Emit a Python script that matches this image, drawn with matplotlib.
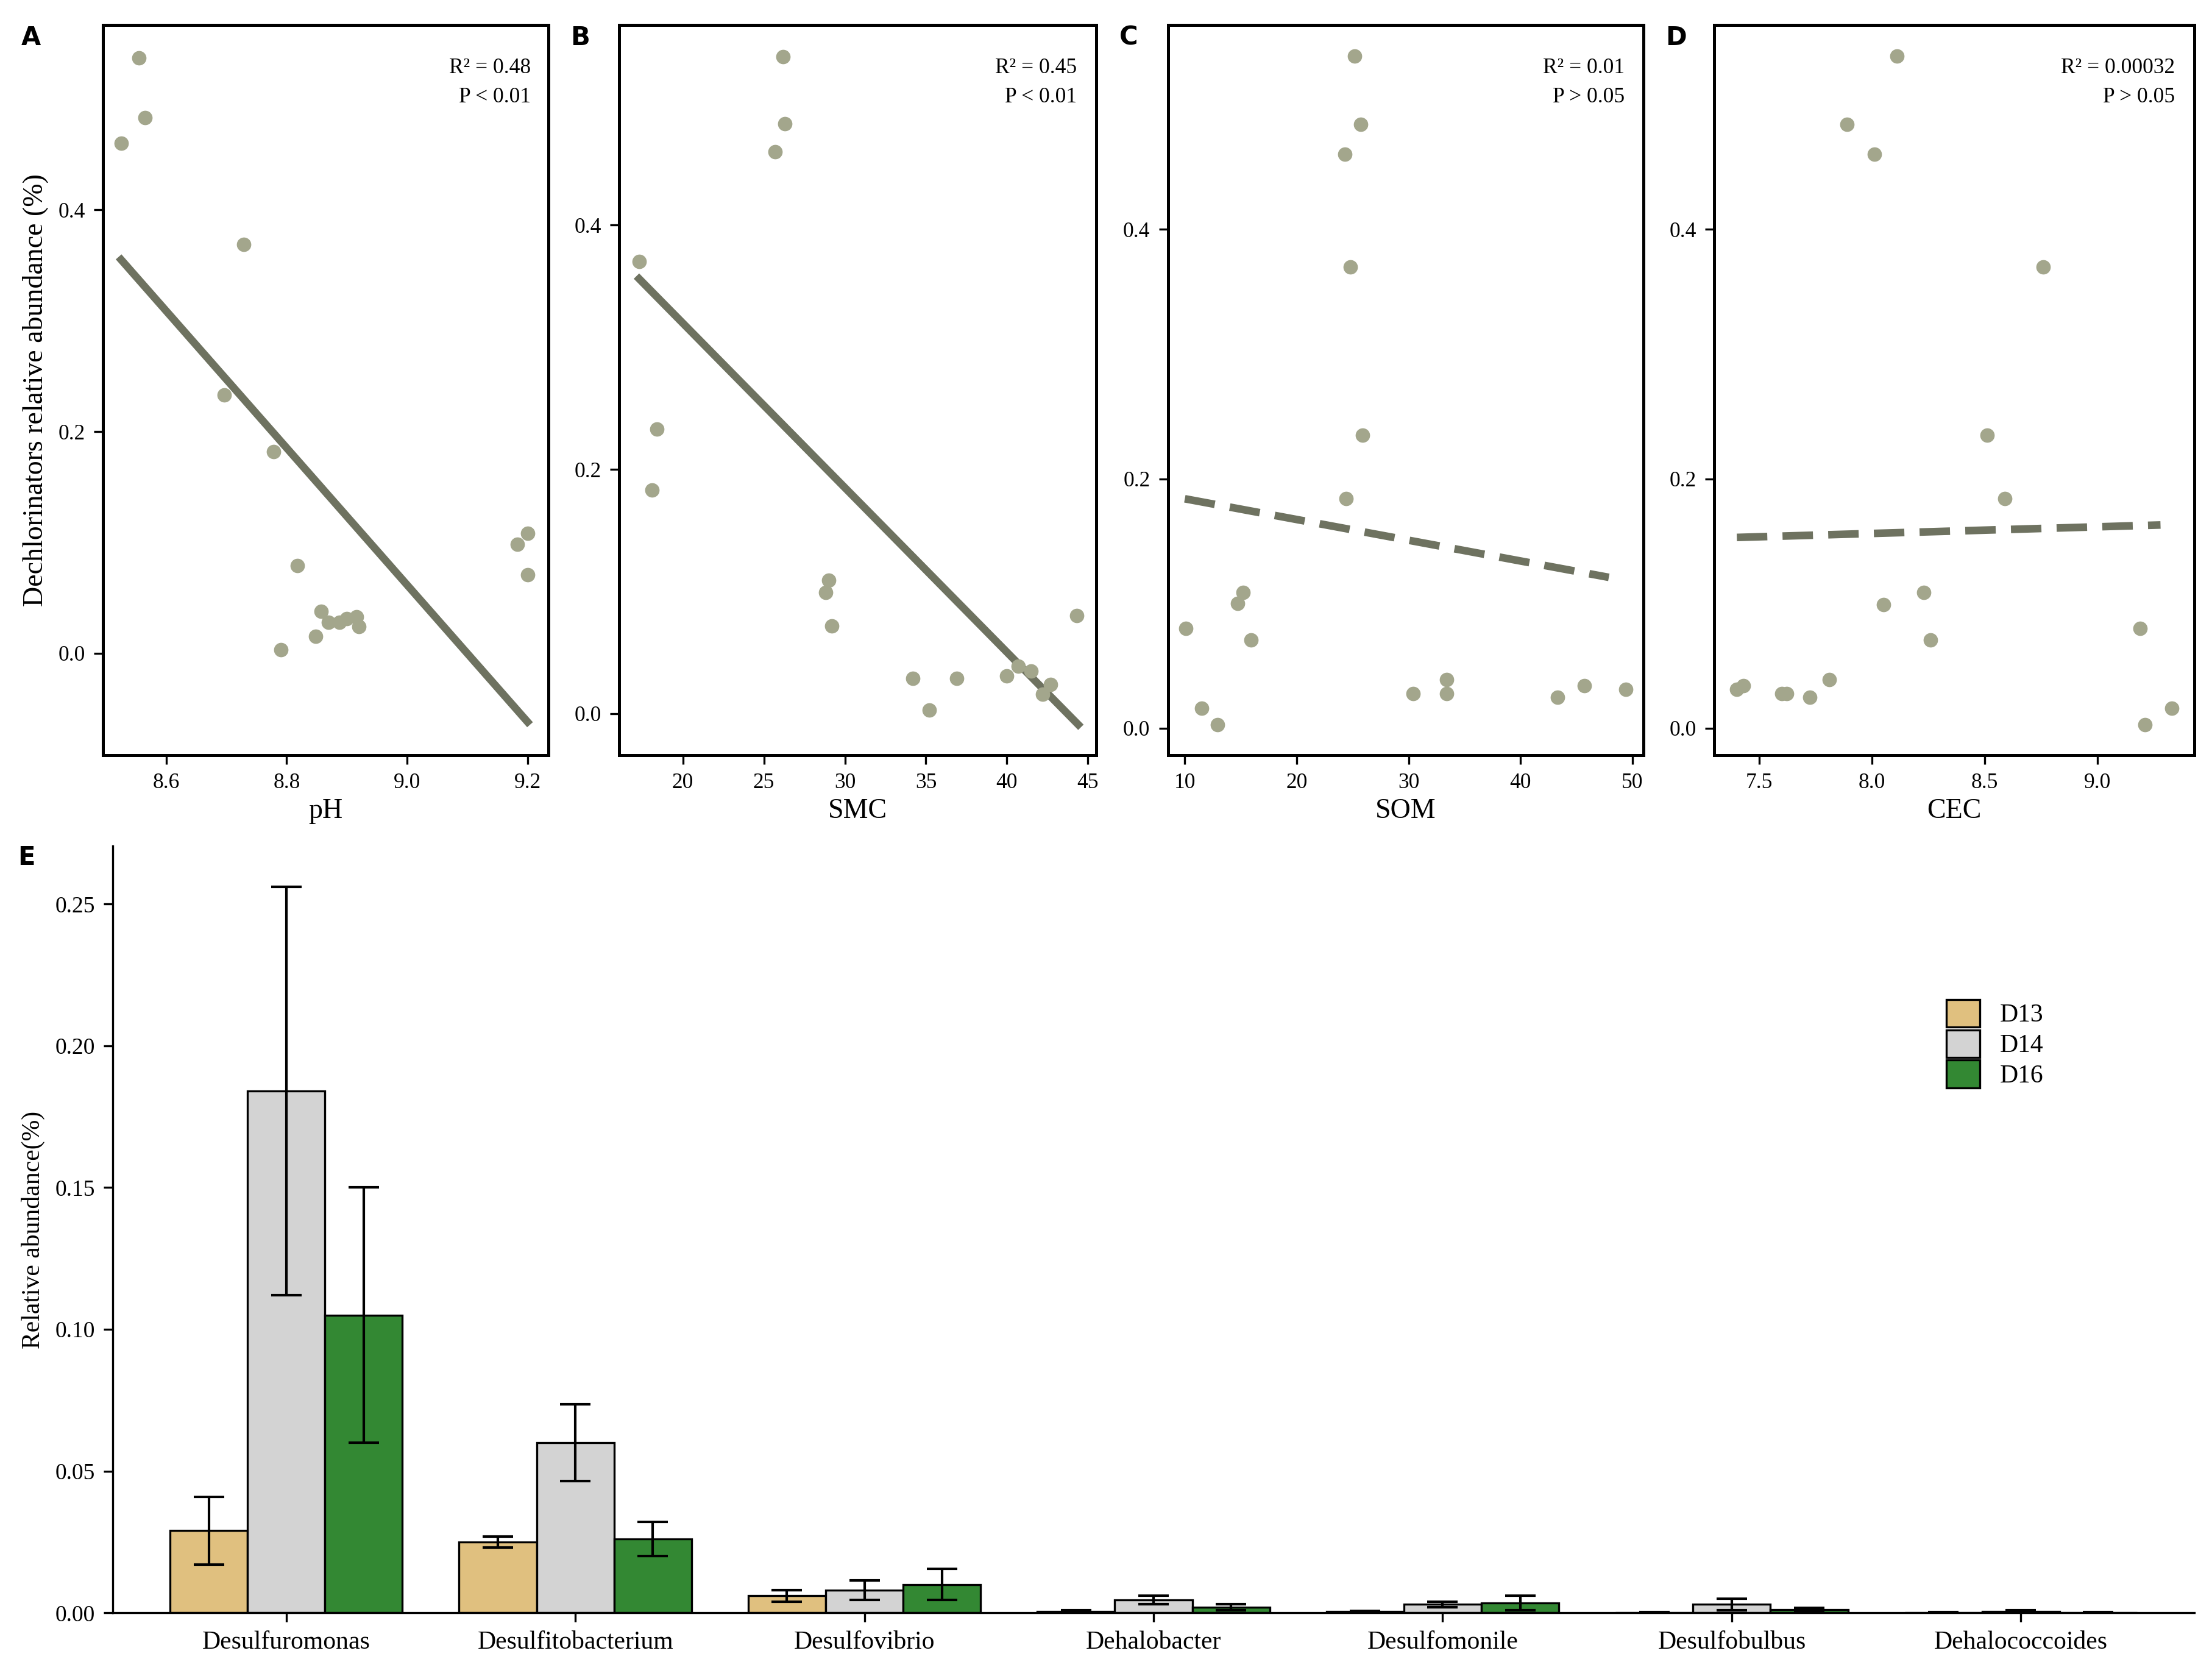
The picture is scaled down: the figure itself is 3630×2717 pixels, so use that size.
import numpy as np
import matplotlib.pyplot as plt

plt.rcParams['font.family'] = 'Liberation Serif'

# panel A-D data (x, relative abundance %)
ph = [8.525, 8.555, 8.565, 8.729, 8.696, 8.778, 8.818, 8.79, 8.848, 8.857, 8.869, 8.888, 8.9, 8.916, 8.92, 9.183, 9.2, 9.2]
ph_y = [0.46, 0.537, 0.483, 0.369, 0.233, 0.182, 0.079, 0.003, 0.015, 0.038, 0.028, 0.028, 0.031, 0.033, 0.024, 0.098, 0.108, 0.071]
smc = [17.3, 18.4, 18.1, 25.7, 26.2, 26.3, 28.8, 29.0, 29.2, 34.2, 35.2, 36.9, 40.0, 40.7, 41.5, 42.2, 42.7, 44.3]
smc_y = [0.37, 0.233, 0.183, 0.46, 0.538, 0.483, 0.099, 0.109, 0.072, 0.029, 0.003, 0.029, 0.031, 0.039, 0.035, 0.016, 0.024, 0.08]
som = [10.1, 11.5, 12.9, 14.7, 15.2, 15.9, 24.3, 25.2, 25.7, 24.8, 25.9, 24.4, 30.4, 33.4, 33.4, 43.3, 45.7, 49.4]
som_y = [0.08, 0.016, 0.003, 0.1, 0.109, 0.071, 0.46, 0.539, 0.484, 0.37, 0.235, 0.184, 0.028, 0.039, 0.028, 0.025, 0.034, 0.031]
cec = [7.4, 7.43, 7.6, 7.62, 7.725, 7.81, 7.89, 8.01, 8.11, 8.05, 8.23, 8.26, 8.51, 8.59, 8.76, 9.19, 9.21, 9.33]
cec_y = [0.031, 0.034, 0.028, 0.028, 0.025, 0.039, 0.484, 0.46, 0.539, 0.099, 0.109, 0.071, 0.235, 0.184, 0.37, 0.08, 0.003, 0.016]

# fitted lines (endpoints)
fits = [([8.525, 9.2], [0.355, -0.062]), ([17.3, 44.4], [0.356, -0.009]),
        ([10, 47.9], [0.184, 0.121]), ([7.4, 9.28], [0.153, 0.163])]
stats = [('R² = 0.48', 'P < 0.01'), ('R² = 0.45', 'P < 0.01'),
         ('R² = 0.01', 'P > 0.05'), ('R² = 0.00032', 'P > 0.05')]
xlabels = ['pH', 'SMC', 'SOM', 'CEC']
letters = ['A', 'B', 'C', 'D']

# panel E
genera = ['Desulfuromonas', 'Desulfitobacterium', 'Desulfovibrio', 'Dehalobacter',
          'Desulfomonile', 'Desulfobulbus', 'Dehalococcoides']
d13 = [0.029, 0.025, 0.006, 0.0006, 0.0005, 0.0001, 0.0001]
d13_err = [0.012, 0.002, 0.002, 0.0003, 0.0003, 0.0001, 0.0001]
d14 = [0.184, 0.060, 0.008, 0.0045, 0.003, 0.003, 0.0005]
d14_err = [0.072, 0.0135, 0.0035, 0.0015, 0.001, 0.002, 0.0004]
d16 = [0.105, 0.026, 0.010, 0.002, 0.0035, 0.0012, 0.0001]
d16_err = [0.045, 0.006, 0.0055, 0.001, 0.0025, 0.0005, 0.0001]

fig = plt.figure(figsize=(12.1, 9.057), dpi=300)

boxes = [(0.0466, 0.248), (0.280, 0.4955), (0.528, 0.743), (0.775, 0.992)]
xlims = [(8.495, 9.235), (16.08, 45.5), (8.49, 51.0), (7.3, 9.43)]
ylims = [(-0.092, 0.567), (-0.034, 0.564), (-0.0215, 0.564), (-0.0215, 0.564)]
xticks = [[8.6, 8.8, 9.0, 9.2], [20, 25, 30, 35, 40, 45], [10, 20, 30, 40, 50], [7.5, 8.0, 8.5, 9.0]]
data = [(ph, ph_y), (smc, smc_y), (som, som_y), (cec, cec_y)]

for i in range(4):
    l, r = boxes[i]
    ax = fig.add_axes([l, 0.544, r - l, 0.441])
    ax.scatter(data[i][0], data[i][1], s=22, color='#A3A68C', zorder=3)
    ls = '-' if i < 2 else (0, (4, 2))
    ax.plot(fits[i][0], fits[i][1], color='#6E7260', lw=3, linestyle=ls)
    ax.set_xlim(xlims[i]); ax.set_ylim(ylims[i])
    ax.set_xticks(xticks[i])
    ax.set_xticklabels([f'{t:.1f}' if i in (0, 3) else str(t) for t in xticks[i]])
    ax.set_yticks([0, 0.2, 0.4])
    ax.set_yticklabels(['0.0', '0.2', '0.4'])
    ax.tick_params(labelsize=8.5)
    ax.set_xlabel(xlabels[i], fontsize=11, labelpad=2)
    for s in ax.spines.values():
        s.set_linewidth(1.2)
    ax.text(0.96, 0.955, stats[i][0] + '\n' + stats[i][1], transform=ax.transAxes,
            ha='right', va='top', fontsize=8.5, linespacing=1.6)
    fig.text(l - 0.037 if i == 0 else l - 0.022, 0.985, letters[i], fontfamily='DejaVu Sans',
             fontweight='bold', fontsize=10, va='top')
    if i == 0:
        ax.set_ylabel('Dechlorinators relative abundance (%)', fontsize=11)

axe = fig.add_axes([0.051, 0.026, 0.941, 0.463])
x = np.arange(len(genera))
w = 0.268
for k, (v, e, c, lab) in enumerate([(d13, d13_err, '#E0C07F', 'D13'), (d14, d14_err, '#D3D3D3', 'D14'),
                                     (d16, d16_err, '#338833', 'D16')]):
    axe.bar(x + (k - 1) * w, v, w, yerr=e, color=c, edgecolor='black', linewidth=0.8,
            capsize=6, error_kw={'elinewidth': 1, 'capthick': 1}, label=lab)
axe.set_xlim(-0.6, 6.6)
axe.set_ylim(0, 0.2704)
axe.set_xticks(x)
axe.set_xticklabels(genera, fontsize=10)
axe.set_yticks([0, 0.05, 0.10, 0.15, 0.20, 0.25])
axe.set_yticklabels(['0.00', '0.05', '0.10', '0.15', '0.20', '0.25'], fontsize=9)
axe.set_ylabel('Relative abundance(%)', fontsize=10)
axe.spines['top'].set_visible(False)
axe.spines['right'].set_visible(False)
axe.legend(loc='upper left', bbox_to_anchor=(0.87, 0.83), frameon=False, fontsize=10,
           handlelength=1.3, handleheight=1.3, labelspacing=0.1)
fig.text(0.008, 0.49, 'E', fontfamily='DejaVu Sans', fontweight='bold', fontsize=10, va='top')

fig.savefig('out.png', dpi=300)
